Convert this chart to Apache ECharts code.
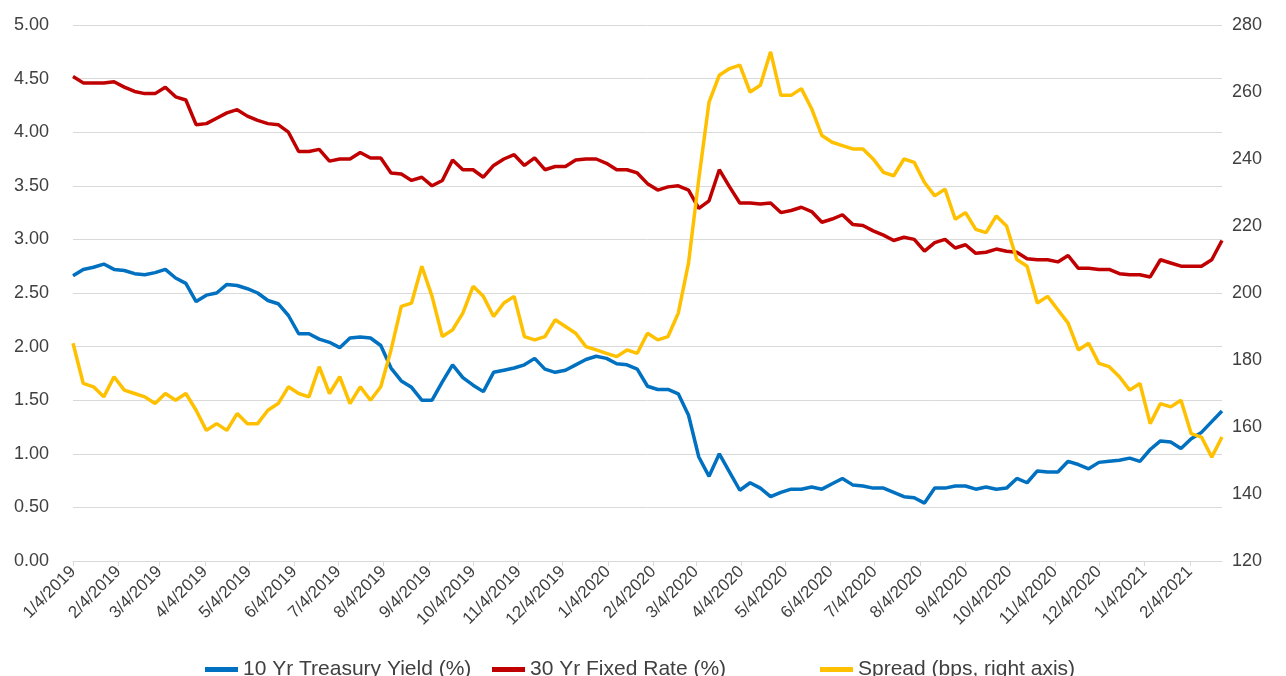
<!DOCTYPE html>
<html>
<head>
<meta charset="utf-8">
<title>30 Yr Fixed vs 10 Yr Treasury</title>
<script src="https://cdn.jsdelivr.net/npm/echarts@6/dist/echarts.min.js"></script>
<style>
  html, body { margin: 0; padding: 0; background: #ffffff; }
  #main { width: 1286px; height: 676px; }
</style>
</head>
<body>
<div id="main"></div>
<script>
// weekly readings, first one on 1/4/2019
var firstWeek = [2019, 0, 4];
var monthLabels = [
  '1/4/2019', '2/4/2019', '3/4/2019', '4/4/2019', '5/4/2019', '6/4/2019',
  '7/4/2019', '8/4/2019', '9/4/2019', '10/4/2019', '11/4/2019', '12/4/2019',
  '1/4/2020', '2/4/2020', '3/4/2020', '4/4/2020', '5/4/2020', '6/4/2020',
  '7/4/2020', '8/4/2020', '9/4/2020', '10/4/2020', '11/4/2020', '12/4/2020',
  '1/4/2021', '2/4/2021'
];
var leftTicks = [0, 5, 0.5];      // min, max, step
var rightTicks = [120, 280, 20];

var treasury10 = [
  2.66, 2.72, 2.74, 2.77, 2.72, 2.71, 2.68, 2.67, 2.69, 2.72,
  2.64, 2.59, 2.42, 2.48, 2.50, 2.58, 2.57, 2.54, 2.50, 2.43,
  2.40, 2.29, 2.12, 2.12, 2.07, 2.04, 1.99, 2.08, 2.09, 2.08,
  2.01, 1.80, 1.68, 1.62, 1.50, 1.50, 1.67, 1.83, 1.71, 1.64,
  1.58, 1.76, 1.78, 1.80, 1.83, 1.89, 1.79, 1.76, 1.78, 1.83,
  1.88, 1.91, 1.89, 1.84, 1.83, 1.79, 1.63, 1.60, 1.60, 1.56,
  1.36, 0.97, 0.79, 1.00, 0.83, 0.66, 0.73, 0.68, 0.60, 0.64,
  0.67, 0.67, 0.69, 0.67, 0.72, 0.77, 0.71, 0.70, 0.68, 0.68,
  0.64, 0.60, 0.59, 0.54, 0.68, 0.68, 0.70, 0.70, 0.67, 0.69,
  0.67, 0.68, 0.77, 0.73, 0.84, 0.83, 0.83, 0.93, 0.90, 0.86,
  0.92, 0.93, 0.94, 0.96, 0.93, 1.04, 1.12, 1.11, 1.05, 1.14,
  1.20, 1.30, 1.40
];
var fixed30 = [
  4.52, 4.46, 4.46, 4.46, 4.47, 4.42, 4.38, 4.36, 4.36, 4.42,
  4.33, 4.30, 4.07, 4.08, 4.13, 4.18, 4.21, 4.15, 4.11, 4.08,
  4.07, 4.00, 3.82, 3.82, 3.84, 3.73, 3.75, 3.75, 3.81, 3.76,
  3.76, 3.62, 3.61, 3.55, 3.58, 3.50, 3.55, 3.74, 3.65, 3.65,
  3.58, 3.69, 3.75, 3.79, 3.69, 3.76, 3.65, 3.68, 3.68, 3.74,
  3.75, 3.75, 3.71, 3.65, 3.65, 3.62, 3.52, 3.46, 3.49, 3.50,
  3.46, 3.29, 3.36, 3.65, 3.49, 3.34, 3.34, 3.33, 3.34, 3.25,
  3.27, 3.30, 3.26, 3.16, 3.19, 3.23, 3.14, 3.13, 3.08, 3.04,
  2.99, 3.02, 3.00, 2.89, 2.97, 3.00, 2.92, 2.95, 2.87, 2.88,
  2.91, 2.89, 2.88, 2.82, 2.81, 2.81, 2.79, 2.85, 2.73, 2.73,
  2.72, 2.72, 2.68, 2.67, 2.67, 2.65, 2.81, 2.78, 2.75, 2.75,
  2.75, 2.81, 2.99
];
var spreadBps = [
  185, 173, 172, 169, 175, 171, 170, 169, 167, 170,
  168, 170, 165, 159, 161, 159, 164, 161, 161, 165,
  167, 172, 170, 169, 178, 170, 175, 167, 172, 168,
  172, 183, 196, 197, 208, 199, 187, 189, 194, 202,
  199, 193, 197, 199, 187, 186, 187, 192, 190, 188,
  184, 183, 182, 181, 183, 182, 188, 186, 187, 194,
  209, 234, 257, 265, 267, 268, 260, 262, 272, 259,
  259, 261, 255, 247, 245, 244, 243, 243, 240, 236,
  235, 240, 239, 233, 229, 231, 222, 224, 219, 218,
  223, 220, 210, 208, 197, 199, 195, 191, 183, 185,
  179, 178, 175, 171, 173, 161, 167, 166, 168, 158,
  157, 151, 157
];

function labelTime(s) {
  var p = s.split('/');
  return new Date(+p[2], +p[0] - 1, +p[1]).getTime();
}
function weekTime(i) {
  return new Date(firstWeek[0], firstWeek[1], firstWeek[2] + 7 * i).getTime();
}
function pairs(arr) {
  return arr.map(function (v, i) { return [weekTime(i), v]; });
}
var tickTimes = monthLabels.map(labelTime);

var chartDom = document.getElementById('main');
var myChart = echarts.init(chartDom);
var font = 'Liberation Sans, Arial, sans-serif';
var txt = '#404040';
var names = ['10 Yr Treasury Yield (%)', '30 Yr Fixed Rate (%)', 'Spread (bps, right axis)'];

var option = {
  animation: false,
  color: ['#0070c0', '#c00000', '#ffc000'],
  grid: { left: 73, right: 64, top: 25, bottom: 115, outerBoundsMode: 'none' },
  legend: [
    { data: [names[0]], left: 200, top: 654 },
    { data: [names[1]], left: 487, top: 654 },
    { data: [names[2]], left: 815, top: 654 }
  ].map(function (l) {
    l.icon = 'rect';
    l.itemWidth = 33;
    l.itemHeight = 5;
    l.textStyle = { fontSize: 21, color: txt, fontFamily: font };
    return l;
  }),
  xAxis: {
    // dates as timestamps on a value axis, ticks on the 4th of every month
    type: 'value',
    min: weekTime(0),
    max: weekTime(treasury10.length - 1),
    axisLine: { lineStyle: { color: '#d9d9d9', width: 1 } },
    axisTick: { show: true, customValues: tickTimes, length: 5, lineStyle: { color: '#d9d9d9' } },
    axisLabel: {
      customValues: tickTimes,
      rotate: 45,
      margin: 8,
      fontSize: 17,
      color: txt,
      fontFamily: font,
      hideOverlap: false,
      formatter: function (v) {
        var d = new Date(v);
        return (d.getMonth() + 1) + '/' + d.getDate() + '/' + d.getFullYear();
      }
    },
    splitLine: { show: false }
  },
  yAxis: [
    {
      type: 'value',
      min: leftTicks[0], max: leftTicks[1], interval: leftTicks[2],
      axisLine: { show: false },
      axisTick: { show: false },
      axisLabel: {
        fontSize: 18, color: txt, fontFamily: font, margin: 24,
        formatter: function (v) { return v.toFixed(2); }
      },
      splitLine: { lineStyle: { color: '#d9d9d9', width: 1 } }
    },
    {
      type: 'value',
      min: rightTicks[0], max: rightTicks[1], interval: rightTicks[2],
      axisLine: { show: false },
      axisTick: { show: false },
      axisLabel: { fontSize: 18, color: txt, fontFamily: font, margin: 10 },
      splitLine: { show: false }
    }
  ],
  series: [
    { name: names[0], type: 'line', yAxisIndex: 0, data: pairs(treasury10) },
    { name: names[1], type: 'line', yAxisIndex: 0, data: pairs(fixed30) },
    { name: names[2], type: 'line', yAxisIndex: 1, data: pairs(spreadBps) }
  ].map(function (s) {
    s.showSymbol = false;
    s.symbol = 'none';
    s.lineStyle = { width: 3.5 };
    s.emphasis = { disabled: true };
    return s;
  })
};
myChart.setOption(option);
</script>
</body>
</html>
